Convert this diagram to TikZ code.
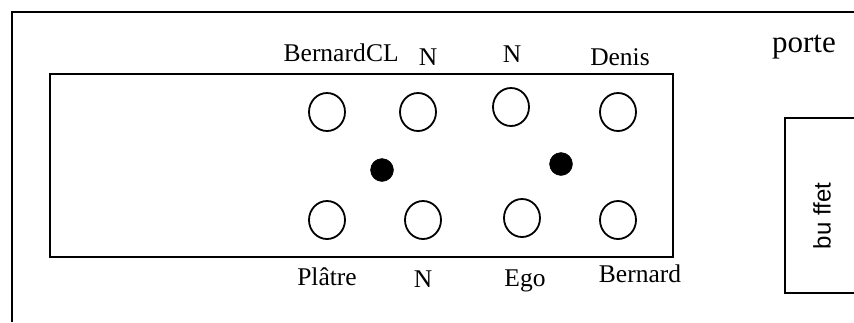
\documentclass[tikz,border=0pt]{standalone}
\usepackage{fontspec}
\setmainfont{Liberation Serif}
\newfontfamily\buffetfont{Liberation Sans}
\usetikzlibrary{shapes.geometric}
\begin{document}
\begin{tikzpicture}[x=1pt,y=-1pt,
  wall/.style={line width=2.5pt},
  seat/.style={draw,line width=1.8pt,ellipse,minimum width=36pt,minimum height=38pt,inner sep=0pt},
  guest/.style={draw,fill=black,circle,minimum size=23pt,inner sep=0pt},
  lbl/.style={anchor=base,inner sep=0pt,font=\fontsize{25.5}{28}\selectfont},
]
\useasboundingbox (0,0) rectangle (854,322);
% room walls
\coordinate (wb) at (12,322);
\coordinate (wc) at (12,12);
\coordinate (wr) at (854,12);
\draw[wall] (wb) -- (wc) -- (wr);
% table
\node[draw,line width=2.4pt,minimum width=623pt,minimum height=183pt,anchor=north west,inner sep=0pt] (table) at (49,73) {};
% buffet
\coordinate (b1) at (854,118);
\coordinate (b2) at (785,118);
\coordinate (b3) at (785,293);
\coordinate (b4) at (854,293);
\draw[line width=2pt] (b1) -- (b2) -- (b3) -- (b4);
\node[rotate=90,inner sep=0pt,font=\buffetfont\fontsize{24}{26}\selectfont] (buffet) at (822,216) {bu ffet};
% seats
\node[seat] (s1) at (327,112) {};
\node[seat] (s2) at (418,112) {};
\node[seat] (s3) at (511,107) {};
\node[seat] (s4) at (618,112) {};
\node[seat] (s5) at (327,220) {};
\node[seat] (s6) at (423,220) {};
\node[seat] (s7) at (522,218) {};
\node[seat] (s8) at (618,220) {};
% dots
\node[guest] (d1) at (382,170) {};
\node[guest] (d2) at (561,164) {};
% labels
\node[lbl,anchor=base east] (l1) at (366,61) {Bernard};
\node[lbl,anchor=base west] (l2) at (366,61) {CL};
\node[lbl] (l3) at (428,65) {N};
\node[lbl] (l4) at (512,62) {N};
\node[lbl] (l5) at (620,65) {Denis};
\node[lbl,font=\fontsize{31}{34}\selectfont] (porte) at (804,52) {porte};
\node[lbl] (l6) at (327,285) {Plâtre};
\node[lbl] (l7) at (423,287) {N};
\node[lbl] (l8) at (525,286) {Ego};
\node[lbl] (l9) at (640,282) {Bernard};
\end{tikzpicture}
\end{document}
